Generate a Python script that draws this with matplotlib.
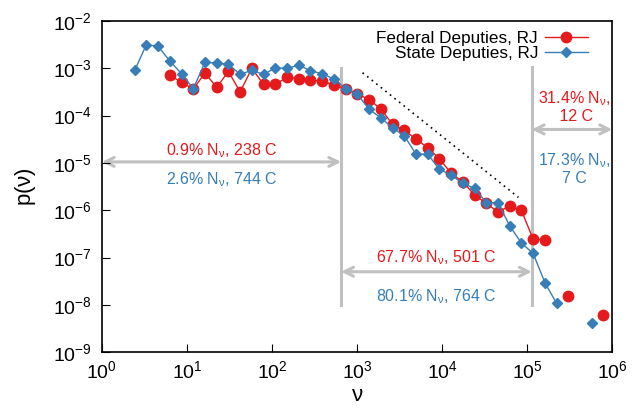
import numpy as np
import matplotlib
matplotlib.use("Agg")
import matplotlib.pyplot as plt

plt.rcParams['font.family'] = ['Liberation Sans', 'DejaVu Sans']
plt.rcParams['mathtext.default'] = 'regular'

# bin centres (nu)
nu = [2.43, 3.33, 4.58, 6.29, 8.64, 11.86, 16.3, 22.4, 30.7, 42.2,
      58.0, 79.6, 109.4, 150.3, 206.5, 283.4, 389, 535, 735, 1009,
      1386, 1903, 2613, 3590, 4932, 6775, 9300, 12770, 17540, 24100,
      33110, 45420, 62400, 85700, 117800, 161800, 222000, 304800, 418800, 575400,
      790700]
nan = float('nan')
state = [9.07e-4, 3.15e-3, 2.92e-3, 1.43e-3, 7.69e-4, 3.70e-4, 1.34e-3, 1.29e-3, 1.21e-3, 7.46e-4,
         9.07e-4, 7.46e-4, 1.01e-3, 1.01e-3, 1.16e-3, 8.89e-4, 7.69e-4, 5.94e-4, 3.74e-4, 2.83e-4,
         1.36e-4, 8.98e-5, 5.54e-5, 3.76e-5, 1.53e-5, 1.53e-5, 7.31e-6, 5.54e-6, 3.70e-6, 2.90e-6,
         1.45e-6, 1.45e-6, 4.67e-7, 2.02e-7, 1.22e-7, 2.95e-8, 1.07e-8, nan, nan, 4.15e-9,
         nan]
federal = [nan, nan, nan, 7.11e-4, 5.06e-4, 3.65e-4, 7.94e-4, 3.96e-4, 8.63e-4, 3.16e-4,
           1.00e-3, 4.58e-4, 4.58e-4, 6.46e-4, 6.03e-4, 5.57e-4, 5.38e-4, 4.39e-4, 3.74e-4, 2.86e-4,
           2.18e-4, 1.39e-4, 6.54e-5, 4.89e-5, 3.20e-5, 2.10e-5, 1.23e-5, 6.03e-6, 4.00e-6, 2.09e-6,
           1.40e-6, 9.14e-7, 1.23e-6, 9.98e-7, 2.42e-7, 2.37e-7, nan, 1.55e-8, nan, nan,
           6.01e-9]

guide_x = [1161, 79000]
guide_y = [8.07e-4, 1.87e-6]
cut1 = 650
cut2 = 113500

RED = '#e41a1c'
BLUE = '#377eb8'
GRAY = '#c0c0c0'

fig = plt.figure(figsize=(6.37, 4.08), dpi=100)
ax = fig.add_axes([0.160, 0.137, 0.801, 0.8115])
ax.set_xscale('log')
ax.set_yscale('log')
ax.set_xlim(1, 1e6)
ax.set_ylim(1e-9, 1e-2)

# vertical separators
ax.plot([cut1, cut1], [1e-3, 1e-8], color=GRAY, lw=2.2, zorder=1)
ax.plot([cut2, cut2], [1.05e-3, 1e-8], color=GRAY, lw=2.2, zorder=1)

# arrows
ap = dict(arrowstyle='<->', color=GRAY, lw=2.2, mutation_scale=16, shrinkA=0, shrinkB=0)
ax.annotate('', xy=(1, 1.05e-5), xytext=(cut1, 1.05e-5), arrowprops=ap, zorder=1)
ax.annotate('', xy=(cut1, 5e-8), xytext=(cut2, 5e-8), arrowprops=ap, zorder=1)
ax.annotate('', xy=(cut2, 5.1e-5), xytext=(1e6, 5.1e-5), arrowprops=ap, zorder=1)

# guide line
ax.plot(guide_x, guide_y, color='black', ls=(0, (1, 2.5)), lw=1.2, zorder=2)

ax.plot(nu, federal, color=RED, marker='o', ms=7.5, lw=1, label='Federal Deputies, RJ', zorder=3)
ax.plot(nu, state, color=BLUE, marker='D', ms=5.5, lw=1, label='State Deputies, RJ', zorder=4)

fs = 11.5
ax.text(25.5, 1.85e-5, r'0.9% N$_\nu$, 238 C', color=RED, ha='center', va='center', fontsize=fs)
ax.text(25.5, 4.5e-6, r'2.6% N$_\nu$, 744 C', color=BLUE, ha='center', va='center', fontsize=fs)
ax.text(8600, 1.0e-7, r'67.7% N$_\nu$, 501 C', color=RED, ha='center', va='center', fontsize=fs)
ax.text(8600, 1.5e-8, r'80.1% N$_\nu$, 764 C', color=BLUE, ha='center', va='center', fontsize=fs)
ax.text(3.6e5, 1.55e-4, r'31.4% N$_\nu$,' + '\n 12 C', color=RED, ha='center', va='center', fontsize=fs, linespacing=1.05)
ax.text(3.6e5, 7.5e-6, r'17.3% N$_\nu$,' + '\n7 C', color=BLUE, ha='center', va='center', fontsize=fs, linespacing=1.05)

ax.set_xlabel(r'$\nu$', fontsize=16, labelpad=2)
ax.set_ylabel(r'p($\nu$)', fontsize=16, labelpad=11)
ax.tick_params(which='major', direction='in', length=6, labelsize=14, top=False, right=False, pad=7)
ax.tick_params(axis='x', pad=6)
ax.tick_params(which='minor', length=0)
ax.set_xticks([1, 10, 100, 1e3, 1e4, 1e5, 1e6])
ax.set_yticks([1e-9, 1e-8, 1e-7, 1e-6, 1e-5, 1e-4, 1e-3, 1e-2])
for s in ax.spines.values():
    s.set_linewidth(1.2)

leg = ax.legend(loc='upper right', frameon=False, markerfirst=False, fontsize=12.3,
                handlelength=2.5, labelspacing=0.0, borderaxespad=0.2,
                bbox_to_anchor=(0.972, 1.0), handletextpad=0.4)

fig.savefig('out.png', dpi=100)
